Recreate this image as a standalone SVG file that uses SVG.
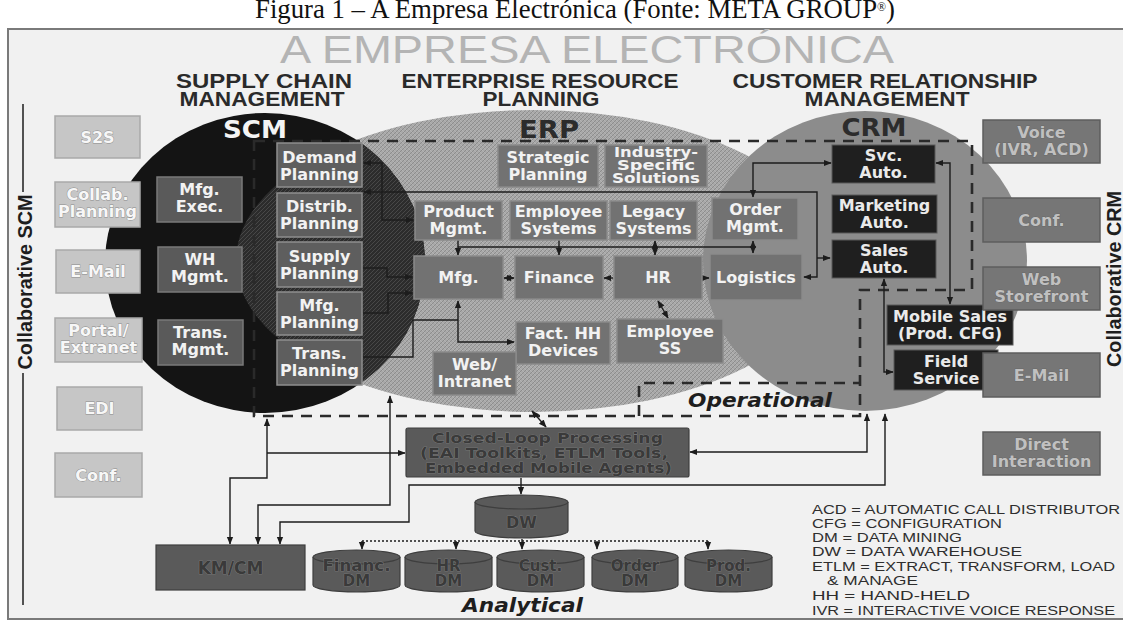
<svg xmlns="http://www.w3.org/2000/svg" width="1123" height="622" viewBox="0 0 1123 622">
<defs>
<pattern id="hL" width="4" height="4" patternUnits="userSpaceOnUse">
<rect width="4" height="4" fill="#a8a8a8"/>
<path d="M0,4 L4,0 M-1,1 L1,-1 M3,5 L5,3" stroke="#8a8a8a" stroke-width="0.9"/>
<path d="M0,0 L4,4" stroke="#bcbcbc" stroke-width="0.6"/>
</pattern>
<pattern id="hD" width="4" height="4" patternUnits="userSpaceOnUse">
<rect width="4" height="4" fill="#2c2c2c"/>
<path d="M0,4 L4,0 M-1,1 L1,-1 M3,5 L5,3" stroke="#4c4c4c" stroke-width="0.9"/>
</pattern>
<clipPath id="scmClip"><ellipse cx="265" cy="263" rx="160" ry="150"/></clipPath>
<marker id="ah" viewBox="0 0 10 10" refX="9" refY="5" markerUnits="userSpaceOnUse" markerWidth="8" markerHeight="8" orient="auto-start-reverse">
<path d="M0,1 L10,5 L0,9 z" fill="#1c1c1c"/>
</marker>
<style>
.ttl{font-family:"Liberation Sans",Arial,sans-serif;font-size:38px;fill:#b4b4b4;text-anchor:middle}
.hd{font-family:"Liberation Sans",Arial,sans-serif;font-weight:bold;font-size:20px;fill:#2a2a2a;text-anchor:middle}
.big{font-family:"DejaVu Sans",sans-serif;font-weight:bold;font-size:24px;text-anchor:middle}
.lb{font-family:"DejaVu Sans",sans-serif;font-weight:bold;font-size:16px;text-anchor:middle}
.dm{font-size:15px}
.it{font-family:"DejaVu Sans",sans-serif;font-weight:bold;font-style:oblique;font-size:19px;fill:#1e1e1e}
.col{font-family:"Liberation Sans",Arial,sans-serif;font-weight:bold;font-size:20px;fill:#1e1e1e;text-anchor:middle}
.lg{font-family:"Liberation Sans",Arial,sans-serif;font-size:13px;fill:#2e2e2e}
.bl rect{fill:#c6c6c6;stroke:#a9a9a9;stroke-width:1.5}
.bl text{fill:#f7f7f7;stroke:#8a8a8a;stroke-width:0.8;paint-order:stroke}
.bs rect{fill:#5a5a5a;stroke:#7a7a7a;stroke-width:1.5}
.bs text{fill:#f2f2f2}
.bp rect{fill:#5e5e5e;stroke:#8e8e8e;stroke-width:1.5}
.bp text{fill:#f2f2f2}
.be rect{fill:#727272;stroke:#8a8a8a;stroke-width:1.5}
.be text{fill:#f2f2f2}
.bc rect{fill:#1f1f1f;stroke:#5a5a5a;stroke-width:1}
.bc text{fill:#eaeaea}
.br rect{fill:#767676;stroke:#5e5e5e;stroke-width:1.5}
.br text{fill:#c0c0c0;stroke:#5a5a5a;stroke-width:0.6;paint-order:stroke}
.bd rect,.bd path,.bd ellipse{fill:#5a5a5a;stroke:#3e3e3e;stroke-width:1.2}
.bd text{fill:#3a3a3a;stroke:#8a8a8a;stroke-width:0.6;paint-order:stroke}
.cn path{fill:none;stroke:#1c1c1c;stroke-width:1.4}
.dash{fill:none;stroke:#2a2a2a;stroke-width:2.6;stroke-dasharray:11 8}
</style>
</defs>

<!-- page -->
<rect x="0" y="0" width="1123" height="622" fill="#ffffff"/>
<text x="575" y="18" font-family="'Liberation Serif','Times New Roman',serif" font-size="27" fill="#111" text-anchor="middle" textLength="640" lengthAdjust="spacingAndGlyphs">Figura 1 – A Empresa Electrónica (Fonte: META GROUP<tspan font-size="12" dy="-7">®</tspan><tspan dy="7">)</tspan></text>
<rect x="8" y="29" width="1125" height="590" fill="#f1f1f1" stroke="#7a7a7a" stroke-width="2"/>

<!-- titles -->
<text class="ttl" x="587" y="63" textLength="614" lengthAdjust="spacingAndGlyphs">A EMPRESA ELECTRÓNICA</text>
<text class="hd" x="264" y="88" textLength="176" lengthAdjust="spacingAndGlyphs">SUPPLY CHAIN</text>
<text class="hd" x="262" y="106" textLength="165" lengthAdjust="spacingAndGlyphs">MANAGEMENT</text>
<text class="hd" x="540" y="88" textLength="277" lengthAdjust="spacingAndGlyphs">ENTERPRISE RESOURCE</text>
<text class="hd" x="541" y="106" textLength="117" lengthAdjust="spacingAndGlyphs">PLANNING</text>
<text class="hd" x="885" y="88" textLength="305" lengthAdjust="spacingAndGlyphs">CUSTOMER RELATIONSHIP</text>
<text class="hd" x="887" y="106" textLength="165" lengthAdjust="spacingAndGlyphs">MANAGEMENT</text>

<!-- side labels -->
<path d="M23,104 V192 M23,373 V605" stroke="#1e1e1e" stroke-width="1.5" fill="none"/>
<text class="col" transform="translate(32,282) rotate(-90)" textLength="175" lengthAdjust="spacingAndGlyphs">Collaborative SCM</text>
<text class="col" transform="translate(1121,279) rotate(-90)" textLength="176" lengthAdjust="spacingAndGlyphs">Collaborative CRM</text>

<!-- regions -->
<g id="regions">
<ellipse cx="534" cy="261" rx="298" ry="151" fill="url(#hL)"/>
<ellipse cx="865" cy="261" rx="162" ry="150" fill="#8c8c8c"/>
<ellipse cx="265" cy="263" rx="160" ry="150" fill="#141414"/>
<ellipse cx="534" cy="261" rx="298" ry="151" fill="url(#hD)" clip-path="url(#scmClip)"/>
<text class="big" x="255" y="138" fill="#f4f4f4" textLength="64" lengthAdjust="spacingAndGlyphs">SCM</text>
<text class="big" x="549" y="138" fill="#2c2c2c" textLength="60" lengthAdjust="spacingAndGlyphs">ERP</text>
<text class="big" x="874" y="136" fill="#2c2c2c" textLength="65" lengthAdjust="spacingAndGlyphs">CRM</text>
</g>

<!-- dashed boundaries -->
<g id="boundaries">
<path class="dash" d="M254,141 H972 V290 H860 V416 H254 Z"/>
<path class="dash" d="M639,416 V383 H860"/>
<text class="it" x="688" y="407" textLength="144" lengthAdjust="spacingAndGlyphs">Operational</text>
<text class="it" x="462" y="612" textLength="121" lengthAdjust="spacingAndGlyphs">Analytical</text>
</g>

<!-- connectors -->
<g id="connectors" class="cn">
<path d="M364,163 H382 V220 H413" marker-start="url(#ah)" marker-end="url(#ah)"/>
<path d="M364,192 H817 V277 H804" marker-start="url(#ah)" marker-end="url(#ah)"/>
<path d="M817,258 H830" marker-end="url(#ah)"/>
<path d="M363,268 H387 V277 H412" marker-end="url(#ah)"/>
<path d="M363,313 H388 V293 H412" marker-end="url(#ah)"/>
<path d="M363,357 H413 V320 H458"/>
<path d="M458,301 V342 H514" marker-start="url(#ah)" marker-end="url(#ah)"/>
<path d="M458,247 H753"/>
<path d="M458,240 V255" marker-end="url(#ah)"/>
<path d="M559,240 V255" marker-end="url(#ah)"/>
<path d="M655,241 V255" marker-start="url(#ah)" marker-end="url(#ah)"/>
<path d="M753,241 V253" marker-start="url(#ah)" marker-end="url(#ah)"/>
<path d="M504,278 H514" marker-start="url(#ah)" marker-end="url(#ah)"/>
<path d="M604,278 H613" marker-start="url(#ah)"/>
<path d="M703,278 H709" marker-end="url(#ah)"/>
<path d="M831,163 H753 V197" marker-start="url(#ah)" marker-end="url(#ah)"/>
<path d="M936,163 H950 V304" marker-start="url(#ah)" marker-end="url(#ah)"/>
<path d="M884,279 V372 H893" marker-start="url(#ah)" marker-end="url(#ah)"/>
<path d="M658,301 L668,318" marker-start="url(#ah)" marker-end="url(#ah)"/>
<path d="M532,411 L546,427" marker-start="url(#ah)" marker-end="url(#ah)"/>
<path d="M267,419 V478 H230 V544" marker-start="url(#ah)" marker-end="url(#ah)"/>
<path d="M267,453 H405" marker-end="url(#ah)"/>
<path d="M390,396 V505 H258 V544" marker-start="url(#ah)" marker-end="url(#ah)"/>
<path d="M885,414 V485 H409 V522 H280 V544" marker-start="url(#ah)" marker-end="url(#ah)"/>
<path d="M867,414 V452 H690" marker-start="url(#ah)" marker-end="url(#ah)"/>
<path d="M521,478 V494" marker-end="url(#ah)"/>
<path d="M362,541 H708" stroke-dasharray="2 2"/>
<path d="M362,541 V549" marker-end="url(#ah)"/>
<path d="M456,541 V549" marker-end="url(#ah)"/>
<path d="M522,539 V549" marker-end="url(#ah)"/>
<path d="M597,541 V549" marker-end="url(#ah)"/>
<path d="M708,541 V549" marker-end="url(#ah)"/>
</g>

<!-- left collaborative boxes -->
<g id="n-s2s" class="bl lb"><rect x="55" y="116" width="85" height="42"/><text x="97.5" y="143">S2S</text></g>
<g id="n-collab" class="bl lb"><rect x="55" y="182" width="85" height="45"/><text x="97.5" y="200">Collab.</text><text x="97.5" y="217">Planning</text></g>
<g id="n-email-l" class="bl lb"><rect x="56" y="250" width="84" height="43"/><text x="98" y="277">E-Mail</text></g>
<g id="n-portal" class="bl lb"><rect x="55" y="318" width="87" height="44"/><text x="98.5" y="336">Portal/</text><text x="98.5" y="353">Extranet</text></g>
<g id="n-edi" class="bl lb"><rect x="57" y="387" width="85" height="43"/><text x="99.5" y="414">EDI</text></g>
<g id="n-conf-l" class="bl lb"><rect x="55" y="453" width="87" height="44"/><text x="98.5" y="481">Conf.</text></g>

<!-- SCM execution -->
<g id="n-mfgexec" class="bs lb"><rect x="157" y="177" width="85" height="45"/><text x="199.5" y="195">Mfg.</text><text x="199.5" y="212">Exec.</text></g>
<g id="n-wh" class="bs lb"><rect x="158" y="247" width="84" height="45"/><text x="200" y="265">WH</text><text x="200" y="282">Mgmt.</text></g>
<g id="n-transm" class="bs lb"><rect x="158" y="320" width="85" height="45"/><text x="200.5" y="338">Trans.</text><text x="200.5" y="355">Mgmt.</text></g>

<!-- SCM planning -->
<g id="n-demand" class="bp lb"><rect x="277" y="143" width="85" height="44"/><text x="319.5" y="163">Demand</text><text x="319.5" y="180">Planning</text></g>
<g id="n-distrib" class="bp lb"><rect x="277" y="193" width="85" height="44"/><text x="319.5" y="212">Distrib.</text><text x="319.5" y="229">Planning</text></g>
<g id="n-supply" class="bp lb"><rect x="277" y="242" width="85" height="45"/><text x="319.5" y="262">Supply</text><text x="319.5" y="279">Planning</text></g>
<g id="n-mfgplan" class="bp lb"><rect x="277" y="292" width="85" height="43"/><text x="319.5" y="311">Mfg.</text><text x="319.5" y="328">Planning</text></g>
<g id="n-transplan" class="bp lb"><rect x="277" y="340" width="85" height="45"/><text x="319.5" y="359">Trans.</text><text x="319.5" y="376">Planning</text></g>

<!-- ERP -->
<g id="n-strategic" class="be lb"><rect x="498" y="145" width="100" height="42"/><text x="548" y="163">Strategic</text><text x="548" y="180">Planning</text></g>
<g id="n-industry" class="be lb"><rect x="605" y="145" width="102" height="42"/><text x="656" y="156.5" font-size="13.5" textLength="84" lengthAdjust="spacingAndGlyphs">Industry-</text><text x="656" y="169.5" font-size="13.5" textLength="78" lengthAdjust="spacingAndGlyphs">Specific</text><text x="656" y="182.5" font-size="13.5" textLength="88" lengthAdjust="spacingAndGlyphs">Solutions</text></g>
<g id="n-product" class="be lb"><rect x="415" y="201" width="87" height="39"/><text x="458.5" y="217">Product</text><text x="458.5" y="234">Mgmt.</text></g>
<g id="n-empsys" class="be lb"><rect x="510" y="201" width="97" height="39"/><text x="558.5" y="217">Employee</text><text x="558.5" y="234">Systems</text></g>
<g id="n-legacy" class="be lb"><rect x="610" y="201" width="87" height="39"/><text x="653.5" y="217">Legacy</text><text x="653.5" y="234">Systems</text></g>
<g id="n-order" class="be lb"><rect x="712" y="198" width="86" height="42"/><text x="755" y="215">Order</text><text x="755" y="232">Mgmt.</text></g>
<g id="n-mfg" class="be lb"><rect x="414" y="256" width="89" height="43"/><text x="458.5" y="283">Mfg.</text></g>
<g id="n-finance" class="be lb"><rect x="515" y="256" width="88" height="43"/><text x="559" y="283">Finance</text></g>
<g id="n-hr" class="be lb"><rect x="614" y="256" width="88" height="43"/><text x="658" y="283">HR</text></g>
<g id="n-logistics" class="be lb"><rect x="710" y="254" width="92" height="46"/><text x="756" y="283">Logistics</text></g>
<g id="n-fact" class="be lb"><rect x="516" y="322" width="94" height="42"/><text x="563" y="339">Fact. HH</text><text x="563" y="356">Devices</text></g>
<g id="n-empss" class="be lb"><rect x="617" y="319" width="106" height="44"/><text x="670" y="337">Employee</text><text x="670" y="354">SS</text></g>
<g id="n-web" class="be lb"><rect x="433" y="352" width="83" height="43"/><text x="474.5" y="370">Web/</text><text x="474.5" y="387">Intranet</text></g>

<!-- CRM -->
<g id="n-svc" class="bc lb"><rect x="832" y="145" width="103" height="38"/><text x="883.5" y="161">Svc.</text><text x="883.5" y="178">Auto.</text></g>
<g id="n-mkt" class="bc lb"><rect x="832" y="195" width="105" height="38"/><text x="884.5" y="211">Marketing</text><text x="884.5" y="228">Auto.</text></g>
<g id="n-sales" class="bc lb"><rect x="832" y="240" width="104" height="38"/><text x="884" y="256">Sales</text><text x="884" y="273">Auto.</text></g>
<g id="n-mobile" class="bc lb"><rect x="887" y="305" width="126" height="40"/><text x="950" y="322">Mobile Sales</text><text x="950" y="339">(Prod. CFG)</text></g>
<g id="n-field" class="bc lb"><rect x="894" y="350" width="104" height="40"/><text x="946" y="367">Field</text><text x="946" y="384">Service</text></g>

<!-- right collaborative -->
<g id="n-voice" class="br lb"><rect x="983" y="120" width="117" height="43"/><text x="1041.5" y="138">Voice</text><text x="1041.5" y="155">(IVR, ACD)</text></g>
<g id="n-conf-r" class="br lb"><rect x="983" y="198" width="117" height="44"/><text x="1041.5" y="226">Conf.</text></g>
<g id="n-webstore" class="br lb"><rect x="983" y="267" width="117" height="43"/><text x="1041.5" y="285">Web</text><text x="1041.5" y="302">Storefront</text></g>
<g id="n-email-r" class="br lb"><rect x="983" y="353" width="117" height="44"/><text x="1041.5" y="381">E-Mail</text></g>
<g id="n-direct" class="br lb"><rect x="983" y="432" width="117" height="43"/><text x="1041.5" y="450">Direct</text><text x="1041.5" y="467">Interaction</text></g>

<!-- analytical -->
<g id="n-closed" class="bd lb"><rect x="406" y="428" width="283" height="49" rx="2"/>
<text x="547.5" y="443" font-size="14.5" textLength="231" lengthAdjust="spacingAndGlyphs">Closed-Loop Processing</text>
<text x="544" y="458" font-size="14.5" textLength="248" lengthAdjust="spacingAndGlyphs">(EAI Toolkits, ETLM Tools,</text>
<text x="548.5" y="473" font-size="14.5" textLength="247" lengthAdjust="spacingAndGlyphs">Embedded Mobile Agents)</text></g>
<g id="n-dw" class="bd lb"><path d="M475,502 V531 A46.5,7 0 0 0 568,531 V502"/><ellipse cx="521.5" cy="502" rx="46.5" ry="7"/><text x="521.5" y="528">DW</text></g>
<g id="n-kmcm" class="bd lb"><rect x="156" y="545" width="149" height="45"/><text x="230.5" y="574" font-size="17">KM/CM</text></g>
<g id="n-findm" class="bd lb dm"><path d="M313,557 V585 A43.5,7 0 0 0 400,585 V557"/><ellipse cx="356.5" cy="557" rx="43.5" ry="7"/><text x="356.5" y="571" textLength="68" lengthAdjust="spacingAndGlyphs">Financ.</text><text x="356.5" y="586">DM</text></g>
<g id="n-hrdm" class="bd lb dm"><path d="M405,557 V585 A43.5,7 0 0 0 492,585 V557"/><ellipse cx="448.5" cy="557" rx="43.5" ry="7"/><text x="448.5" y="571">HR</text><text x="448.5" y="586">DM</text></g>
<g id="n-custdm" class="bd lb dm"><path d="M497,557 V585 A43.5,7 0 0 0 584,585 V557"/><ellipse cx="540.5" cy="557" rx="43.5" ry="7"/><text x="540.5" y="571">Cust.</text><text x="540.5" y="586">DM</text></g>
<g id="n-orderdm" class="bd lb dm"><path d="M592,557 V585 A43,7 0 0 0 678,585 V557"/><ellipse cx="635" cy="557" rx="43" ry="7"/><text x="635" y="571">Order</text><text x="635" y="586">DM</text></g>
<g id="n-proddm" class="bd lb dm"><path d="M685,557 V585 A43.5,7 0 0 0 772,585 V557"/><ellipse cx="728.5" cy="557" rx="43.5" ry="7"/><text x="728.5" y="571">Prod.</text><text x="728.5" y="586">DM</text></g>

<!-- legend -->
<g id="legend">
<text class="lg" x="812" y="514" textLength="308" lengthAdjust="spacingAndGlyphs">ACD = AUTOMATIC CALL DISTRIBUTOR</text>
<text class="lg" x="812" y="528" textLength="190" lengthAdjust="spacingAndGlyphs">CFG = CONFIGURATION</text>
<text class="lg" x="812" y="542" textLength="150" lengthAdjust="spacingAndGlyphs">DM = DATA MINING</text>
<text class="lg" x="812" y="556" textLength="210" lengthAdjust="spacingAndGlyphs">DW = DATA WAREHOUSE</text>
<text class="lg" x="812" y="571" textLength="303" lengthAdjust="spacingAndGlyphs">ETLM = EXTRACT, TRANSFORM, LOAD</text>
<text class="lg" x="827" y="585" textLength="91" lengthAdjust="spacingAndGlyphs">&amp; MANAGE</text>
<text class="lg" x="812" y="600" textLength="158" lengthAdjust="spacingAndGlyphs">HH = HAND-HELD</text>
<text class="lg" x="812" y="615" textLength="303" lengthAdjust="spacingAndGlyphs">IVR = INTERACTIVE VOICE RESPONSE</text>
</g>
</svg>
